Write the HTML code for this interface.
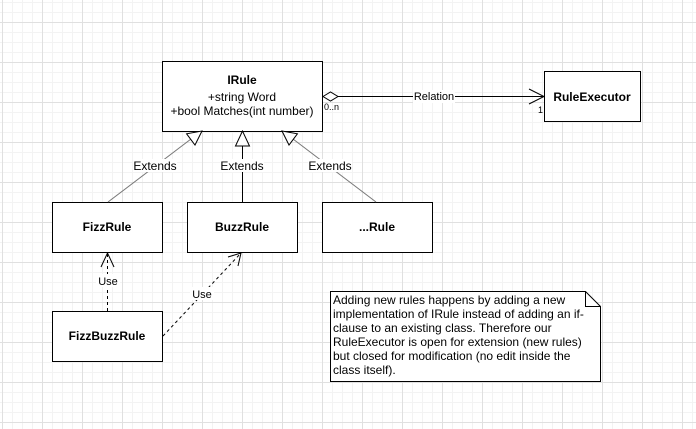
<!DOCTYPE html>
<html><head><meta charset="utf-8"><style>
html,body{margin:0;padding:0;background:#fff}
body{width:696px;height:429px;overflow:hidden;
background-image:
linear-gradient(to right,#e0e0e0 1px,transparent 1px),
linear-gradient(to bottom,#e0e0e0 1px,transparent 1px),
linear-gradient(to right,#f3f3f3 1px,transparent 1px),
linear-gradient(to bottom,#f3f3f3 1px,transparent 1px);
background-size:40px 40px,40px 40px,10px 10px,10px 10px;
background-position:2px 22px,2px 22px,2px 2px,2px 2px;}
svg{position:absolute;left:0;top:0}
svg text{font-family:"Liberation Sans",Arial,sans-serif;fill:#000}
</style></head><body>
<svg width="696" height="429" viewBox="0 0 696 429" xmlns="http://www.w3.org/2000/svg">
<g fill="#fff" stroke="#000" stroke-width="1">
<rect x="162.5" y="61.5" width="160" height="70"/>
<rect x="544.5" y="71.5" width="96" height="50"/>
<rect x="52.5" y="202.5" width="110" height="50"/>
<rect x="187.5" y="202.5" width="110" height="50"/>
<rect x="322.5" y="202.5" width="110" height="50"/>
<rect x="52.5" y="311.5" width="110" height="50"/>
<path d="M330.5 291.5H585.5L600.5 306.5V381.5H330.5Z"/>
<path d="M585.5 291.5V306.5H600.5" fill="none"/>
</g>
<g text-anchor="middle">
<text x="242" y="84" style="font-weight:bold;font-size:12px">IRule</text>
<text x="592" y="101" style="font-weight:bold;font-size:12px">RuleExecutor</text>
<text x="107" y="231" style="font-weight:bold;font-size:12px">FizzRule</text>
<text x="242" y="231" style="font-weight:bold;font-size:12px">BuzzRule</text>
<text x="377" y="231" style="font-weight:bold;font-size:12px">...Rule</text>
<text x="107" y="340" style="font-weight:bold;font-size:12px">FizzBuzzRule</text>
</g>
<text x="242" y="101" text-anchor="middle" style="font-size:12px">+string Word</text>
<text x="242" y="115" text-anchor="middle" style="font-size:12px">+bool Matches(int number)</text>

<line x1="108" y1="202" x2="191" y2="139" stroke="#777"/>
<line x1="376" y1="202" x2="293" y2="139" stroke="#777"/>
<line x1="242.5" y1="202" x2="242.5" y2="145" stroke="#000"/>
<g fill="#fff" stroke="#000">
<polygon points="202,131 195,145 186.6,133.8"/>
<polygon points="282,131 297.4,133.8 289,145"/>
<polygon points="242.5,131 235.5,146 249.5,146"/>
</g>
<g text-anchor="middle">
<rect x="133" y="159" width="44" height="13" fill="#fff"/>
<text x="155" y="170" style="font-size:12px">Extends</text>
<rect x="220" y="159" width="44" height="13" fill="#fff"/>
<text x="242" y="170" style="font-size:12px">Extends</text>
<rect x="308" y="159" width="44" height="13" fill="#fff"/>
<text x="330" y="170" style="font-size:12px">Extends</text>
</g>

<line x1="338" y1="96.5" x2="544" y2="96.5" stroke="#000"/>
<polygon points="323,96.5 330.5,92 338,96.5 330.5,101" fill="#fff" stroke="#000"/>
<path d="M529 89L544 96.5L529 104" fill="none" stroke="#000"/>
<rect x="413" y="90" width="42" height="13" fill="#fff"/>
<text x="434" y="100" text-anchor="middle" style="font-size:11px">Relation</text>
<text x="324" y="110" style="font-size:9px">0..n</text>
<text x="538" y="113" style="font-size:9px">1</text>

<line x1="107.5" y1="311" x2="107.5" y2="253" stroke="#000" stroke-dasharray="3,3"/>
<path d="M101 267L107.5 253L114 267" fill="none" stroke="#000"/>
<rect x="96" y="274" width="24" height="13" fill="#fff"/>
<text x="108" y="285" text-anchor="middle" style="font-size:11px">Use</text>
<line x1="163" y1="336" x2="241" y2="253" stroke="#000" stroke-dasharray="3,3"/>
<path d="M228 257L241 253L238 266" fill="none" stroke="#000"/>
<rect x="190" y="287" width="24" height="13" fill="#fff"/>
<text x="202" y="298" text-anchor="middle" style="font-size:11px">Use</text>

<text x="333" y="304" style="font-size:12px">Adding new rules happens by adding a new</text>
<text x="333" y="318" style="font-size:12px">implementation of IRule instead of adding an if-</text>
<text x="333" y="332" style="font-size:12px">clause to an existing class. Therefore our</text>
<text x="333" y="346" style="font-size:12px">RuleExecutor is open for extension (new rules)</text>
<text x="333" y="360" style="font-size:12px">but closed for modification (no edit inside the</text>
<text x="333" y="374" style="font-size:12px">class itself).</text>
</svg>
</body></html>
